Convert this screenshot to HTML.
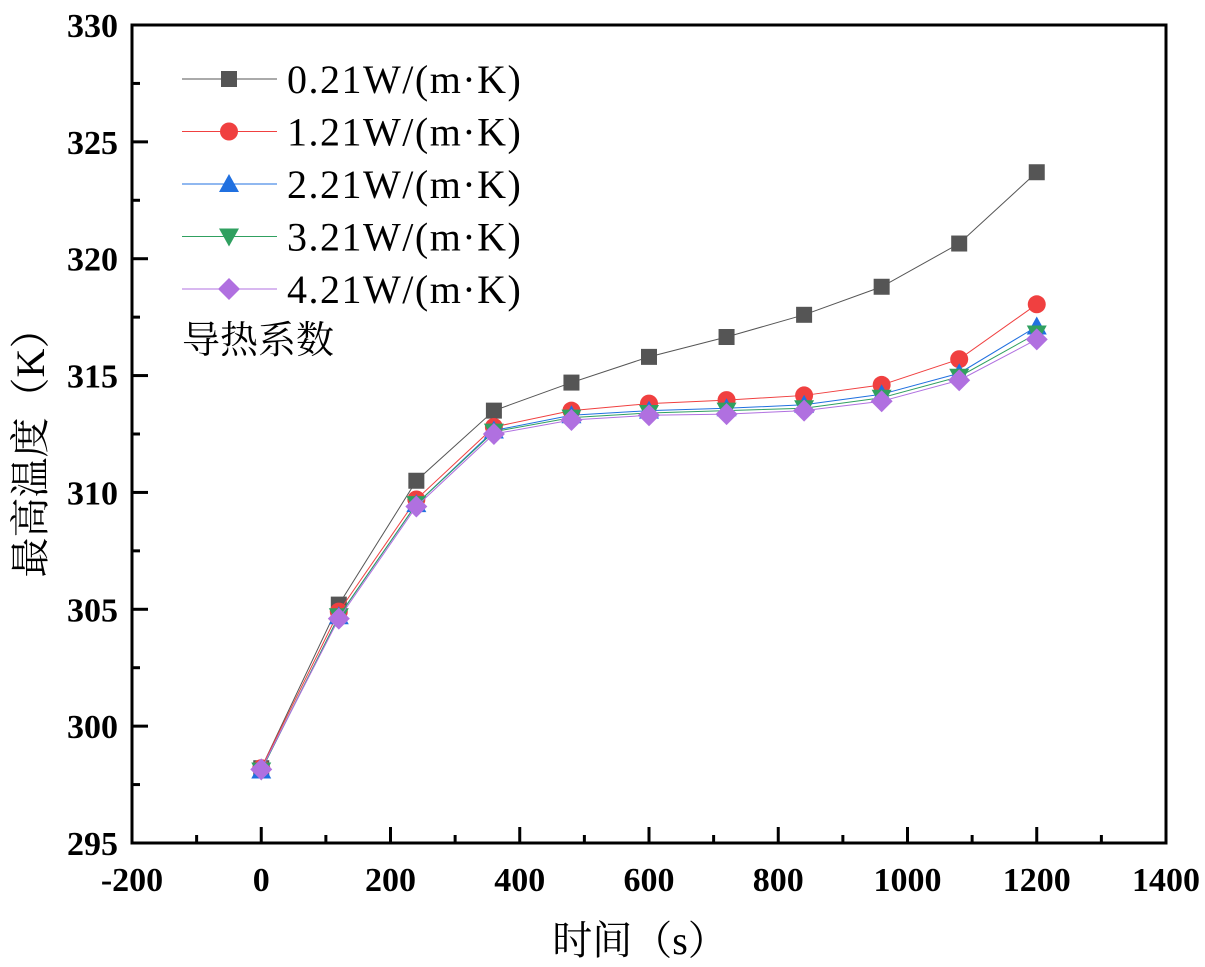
<!DOCTYPE html>
<html><head><meta charset="utf-8"><style>body{margin:0;background:#fff}svg{display:block}</style></head>
<body>
<svg id="chart" width="1205" height="967" xmlns="http://www.w3.org/2000/svg" font-family="'Liberation Serif','Noto Serif CJK SC',serif"></svg>
<script>
const xTicks=[-200,0,200,400,600,800,1000,1200,1400];
const yTicks=[295,300,305,310,315,320,325,330];
const times=[0,120,240,360,480,600,720,840,960,1080,1200];
const s021=[298.2,305.2,310.5,313.5,314.7,315.8,316.65,317.6,318.8,320.65,323.7];
const s121=[298.2,304.9,309.7,312.8,313.5,313.8,313.95,314.15,314.6,315.7,318.05];
const s221=[298.1,304.7,309.5,312.65,313.3,313.5,313.6,313.75,314.2,315.1,317.1];
const s321=[298.1,304.7,309.5,312.6,313.2,313.4,313.5,313.6,314.05,314.95,316.8];
const s421=[298.15,304.6,309.4,312.5,313.1,313.3,313.35,313.5,313.9,314.8,316.55];
const seriesLabels=["0.21W/(m·K)","1.21W/(m·K)","2.21W/(m·K)","3.21W/(m·K)","4.21W/(m·K)"];
const L=132,R=1166,T=25,B=843;
const X=v=>L+(v+200)/1600*(R-L);
const Y=v=>B-(v-295)/35*(B-T);
const svg=document.getElementById('chart');
const NS='http://www.w3.org/2000/svg';
function mk(tag,attrs,parent){const e=document.createElementNS(NS,tag);for(const k in attrs)e.setAttribute(k,attrs[k]);(parent||svg).appendChild(e);return e;}
const styles=[{c:'#555',m:'sq'},{c:'#f04040',m:'ci'},{c:'#2070e0',m:'tu'},{c:'#30a060',m:'td'},{c:'#b070e0',m:'di'}];
const lineCols=['#555','#f04040','#2070e0','#30a060','#b070e0'];
function marker(type,x,y,c,g){
  if(type==='sq')return mk('rect',{x:x-8,y:y-8,width:16,height:16,fill:c},g);
  if(type==='ci')return mk('circle',{cx:x,cy:y,r:9,fill:c},g);
  if(type==='tu')return mk('polygon',{points:`${x},${y-10} ${x+10},${y+8} ${x-10},${y+8}`,fill:c},g);
  if(type==='td')return mk('polygon',{points:`${x},${y+10} ${x+10},${y-8} ${x-10},${y-8}`,fill:c},g);
  return mk('polygon',{points:`${x},${y-11} ${x+11},${y} ${x},${y+11} ${x-11},${y}`,fill:c},g);
}
const all=[s021,s121,s221,s321,s421];
all.forEach((s,i)=>{
  const g=mk('g',{});
  
  
  mk('polyline',{points:s.map((v,j)=>X(times[j])+','+Y(v)).join(' '),fill:'none',stroke:lineCols[i],'stroke-width':1},g);
  s.forEach((v,j)=>marker(styles[i].m,X(times[j]),Y(v),styles[i].c,g));
});
const f=mk('rect',{x:L,y:T,width:R-L,height:B-T,fill:'none',stroke:'#000','stroke-width':3});

xTicks.forEach((v,i)=>{
  const x=X(v);
  mk('line',{x1:x,y1:B,x2:x,y2:B-16,stroke:'#000','stroke-width':3});
  if(i<xTicks.length-1){const xm=X(v+100);mk('line',{x1:xm,y1:B,x2:xm,y2:B-8,stroke:'#000','stroke-width':3});}
  const t=mk('text',{x:x,y:891,'text-anchor':'middle','font-size':34,'font-weight':'bold'});t.textContent=v;
  
});
yTicks.forEach((v,i)=>{
  const y=Y(v);
  mk('line',{x1:L,y1:y,x2:L+16,y2:y,stroke:'#000','stroke-width':3});
  if(i<yTicks.length-1){const ym=Y(v+2.5);mk('line',{x1:L,y1:ym,x2:L+8,y2:ym,stroke:'#000','stroke-width':3});}
  const t=mk('text',{x:118,y:y+12,'text-anchor':'end','font-size':34,'font-weight':'bold'});t.textContent=v;
  
});
const xt=mk('text',{x:640,y:954,'text-anchor':'middle','font-size':40});xt.textContent='时间（s）';

const yt=mk('text',{x:0,y:0,'text-anchor':'middle','font-size':40,transform:'translate(44,443) rotate(-90)'});yt.textContent='最高温度（K）';

const lg=mk('g',{});
seriesLabels.forEach((lab,i)=>{
  const y=79+i*52.5;
  const e=mk('g',{},lg);
  mk('line',{x1:182,y1:y,x2:277,y2:y,stroke:lineCols[i],'stroke-width':1},e);
  marker(styles[i].m,229,y,styles[i].c,e);
  const t=mk('text',{x:287,y:y+14,'font-size':40,'letter-spacing':1.5},e);t.textContent=lab;
});
const lt=mk('text',{x:182,y:353,'font-size':38},lg);lt.textContent='导热系数';

</script>
</body></html>
